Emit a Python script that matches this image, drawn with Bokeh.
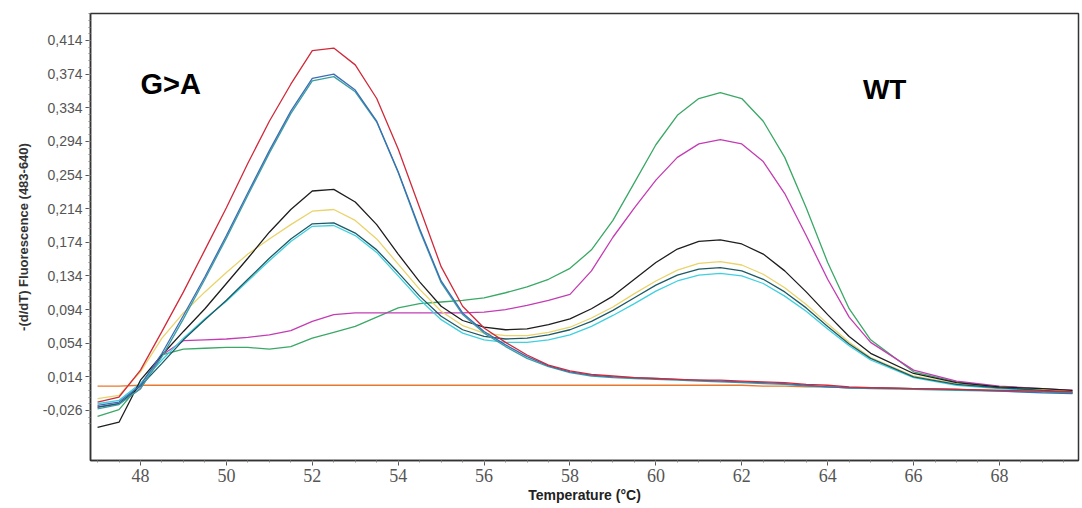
from bokeh.plotting import figure
from bokeh.models import Range1d, FixedTicker, Label
from bokeh.embed import file_html
from bokeh.resources import INLINE

# Temperature grid (°C)
temps = [47.0, 47.5, 48.0, 48.5, 49.0, 49.5, 50.0, 50.5, 51.0, 51.5, 52.0, 52.5,
         53.0, 53.5, 54.0, 54.5, 55.0, 55.5, 56.0, 56.5, 57.0, 57.5, 58.0, 58.5,
         59.0, 59.5, 60.0, 60.5, 61.0, 61.5, 62.0, 62.5, 63.0, 63.5, 64.0, 64.5,
         65.0, 66.0, 67.0, 68.0, 69.0, 69.7]

red = [-0.016, -0.010, 0.022, 0.068, 0.115, 0.165, 0.215, 0.268, 0.318, 0.362, 0.402, 0.405,
       0.385, 0.345, 0.285, 0.215, 0.145, 0.098, 0.072, 0.055, 0.040, 0.028, 0.021, 0.017,
       0.015, 0.013, 0.012, 0.011, 0.010, 0.010, 0.009, 0.008, 0.007, 0.005, 0.004, 0.002,
       0.001, 0.000, -0.001, -0.002, -0.003, -0.004]
blue = [-0.020, -0.016, 0.004, 0.042, 0.087, 0.133, 0.182, 0.233, 0.283, 0.330, 0.369, 0.374,
        0.355, 0.318, 0.258, 0.190, 0.128, 0.090, 0.068, 0.052, 0.038, 0.027, 0.020, 0.016,
        0.014, 0.013, 0.012, 0.011, 0.010, 0.009, 0.008, 0.007, 0.006, 0.004, 0.002, 0.001,
        0.001, 0.000, -0.001, -0.003, -0.005, -0.006]
teal = [-0.024, -0.019, 0.000, 0.038, 0.083, 0.130, 0.179, 0.230, 0.280, 0.327, 0.366, 0.371,
        0.353, 0.317, 0.257, 0.188, 0.126, 0.088, 0.066, 0.050, 0.036, 0.026, 0.019, 0.015,
        0.013, 0.012, 0.011, 0.010, 0.009, 0.008, 0.007, 0.006, 0.005, 0.003, 0.002, 0.001,
        0.000, -0.001, -0.002, -0.003, -0.004, -0.005]
black = [-0.046, -0.040, 0.010, 0.040, 0.068, 0.095, 0.125, 0.155, 0.186, 0.213, 0.235, 0.237,
         0.222, 0.195, 0.160, 0.127, 0.098, 0.081, 0.073, 0.070, 0.071, 0.076, 0.083, 0.095,
         0.110, 0.130, 0.150, 0.166, 0.175, 0.177, 0.172, 0.160, 0.140, 0.115, 0.088, 0.062,
         0.042, 0.018, 0.007, 0.002, 0.000, -0.002]
yellow = [-0.012, -0.008, 0.020, 0.060, 0.090, 0.115, 0.138, 0.160, 0.178, 0.195, 0.211, 0.213,
          0.200, 0.178, 0.148, 0.118, 0.092, 0.075, 0.066, 0.063, 0.063, 0.067, 0.073, 0.084,
          0.097, 0.113, 0.128, 0.141, 0.149, 0.151, 0.147, 0.136, 0.120, 0.100, 0.077, 0.055,
          0.037, 0.015, 0.006, 0.002, -0.001, -0.003]
darkteal = [-0.022, -0.018, 0.003, 0.030, 0.058, 0.082, 0.105, 0.130, 0.155, 0.178, 0.196, 0.197,
            0.185, 0.165, 0.138, 0.110, 0.086, 0.070, 0.062, 0.059, 0.060, 0.064, 0.070, 0.080,
            0.093, 0.108, 0.123, 0.135, 0.142, 0.144, 0.140, 0.130, 0.115, 0.096, 0.074, 0.053,
            0.036, 0.014, 0.005, 0.001, -0.002, -0.004]
cyan = [-0.018, -0.014, 0.006, 0.034, 0.060, 0.083, 0.104, 0.128, 0.152, 0.175, 0.193, 0.194,
        0.182, 0.162, 0.134, 0.106, 0.082, 0.066, 0.058, 0.055, 0.055, 0.058, 0.064, 0.074,
        0.087, 0.101, 0.116, 0.128, 0.135, 0.137, 0.134, 0.125, 0.110, 0.092, 0.071, 0.051,
        0.034, 0.013, 0.004, 0.000, -0.003, -0.005]
green = [-0.033, -0.025, 0.005, 0.040, 0.047, 0.048, 0.049, 0.049, 0.047, 0.050, 0.060, 0.067,
         0.074, 0.085, 0.096, 0.101, 0.103, 0.105, 0.108, 0.114, 0.121, 0.130, 0.143, 0.165,
         0.200, 0.245, 0.290, 0.325, 0.345, 0.352, 0.345, 0.318, 0.275, 0.215, 0.150, 0.095,
         0.058, 0.020, 0.008, 0.002, -0.002, -0.005]
magenta = [-0.022, -0.018, 0.000, 0.040, 0.057, 0.058, 0.059, 0.061, 0.064, 0.069, 0.080, 0.088,
           0.090, 0.090, 0.090, 0.090, 0.090, 0.090, 0.091, 0.094, 0.099, 0.105, 0.112, 0.140,
           0.180, 0.215, 0.248, 0.275, 0.291, 0.296, 0.291, 0.270, 0.232, 0.182, 0.130, 0.085,
           0.055, 0.022, 0.009, 0.003, 0.000, -0.002]
orange = [0.003, 0.003, 0.004, 0.004, 0.004, 0.004, 0.004, 0.004, 0.004, 0.004, 0.004, 0.004,
          0.004, 0.004, 0.004, 0.004, 0.004, 0.004, 0.004, 0.004, 0.004, 0.004, 0.004, 0.004,
          0.004, 0.004, 0.004, 0.004, 0.004, 0.004, 0.004, 0.003, 0.003, 0.002, 0.002, 0.001,
          0.001, 0.000, -0.001, -0.002, -0.004, -0.005]

series = [
    (orange, "#e8782e"),
    (green, "#3aa866"),
    (magenta, "#c43cb4"),
    (cyan, "#3fd0e0"),
    (yellow, "#e9d36a"),
    (darkteal, "#1d5a66"),
    (black, "#1e1e1e"),
    (teal, "#3a9fa0"),
    (blue, "#3d6db5"),
    (red, "#d02a3a"),
]

y_ticks = [-0.026, 0.014, 0.054, 0.094, 0.134, 0.174, 0.214, 0.254, 0.294, 0.334, 0.374, 0.414]
x_ticks = [48, 50, 52, 54, 56, 58, 60, 62, 64, 66, 68]

p = figure(width=1080, height=506, output_backend="svg", toolbar_location=None,
           x_range=Range1d(46.836, 69.84), y_range=Range1d(-0.0855, 0.4461),
           min_border_left=90, min_border_right=2, min_border_top=13, min_border_bottom=46)

for ys, col in series:
    p.line(temps, ys, line_color=col, line_width=1.3)

p.xgrid.visible = False
p.ygrid.visible = False
p.outline_line_color = "#333333"
p.outline_line_width = 1.5

# x axis
p.xaxis.ticker = FixedTicker(ticks=x_ticks, minor_ticks=[t / 2 for t in range(94, 140)])
p.xaxis.axis_label = "Temperature (°C)"
p.xaxis.axis_label_text_font = "Liberation Sans"
p.xaxis.axis_label_text_font_style = "bold"
p.xaxis.axis_label_text_font_size = "14px"
p.xaxis.axis_label_text_color = "#222222"
p.xaxis.axis_label_standoff = 2
p.xaxis.major_label_text_font = "Liberation Sans Narrow"
p.xaxis.major_label_text_font_size = "18px"
p.xaxis.major_label_text_color = "#555555"
p.xaxis.major_label_standoff = 3
p.xaxis.major_tick_in = 0
p.xaxis.major_tick_out = 5
p.xaxis.minor_tick_in = 0
p.xaxis.minor_tick_out = 2

# y axis
p.yaxis.ticker = FixedTicker(ticks=y_ticks,
                             minor_ticks=[round(-0.042 + 0.008 * i, 3) for i in range(62)])
p.yaxis.major_label_overrides = {t: f"{t:.3f}".replace(".", ",") for t in y_ticks}
p.yaxis.axis_label = "-(d/dT) Fluorescence (483-640)"
p.yaxis.axis_label_text_font = "Liberation Sans"
p.yaxis.axis_label_text_font_style = "bold"
p.yaxis.axis_label_text_font_size = "13px"
p.yaxis.axis_label_text_color = "#333333"
p.yaxis.axis_label_standoff = 9
p.yaxis.major_label_text_font = "Liberation Sans"
p.yaxis.major_label_text_font_size = "14px"
p.yaxis.major_label_text_color = "#555555"
p.yaxis.major_label_standoff = 3
p.yaxis.major_tick_in = 0
p.yaxis.major_tick_out = 5
p.yaxis.minor_tick_in = 0
p.yaxis.minor_tick_out = 2

for ax in (p.xaxis, p.yaxis):
    ax.axis_line_color = "#333333"
    ax.axis_line_width = 1.5
    ax.major_tick_line_color = "#555555"
    ax.minor_tick_line_color = "#888888"

p.add_layout(Label(x=48.0, y=0.343, text="G>A", text_font="Liberation Sans",
                   text_font_style="bold", text_font_size="29px", text_color="#000000"))
p.add_layout(Label(x=64.82, y=0.337, text="WT", text_font="Liberation Sans",
                   text_font_style="bold", text_font_size="28px", text_color="#000000"))

open("out.html", "w").write(file_html(p, INLINE))
